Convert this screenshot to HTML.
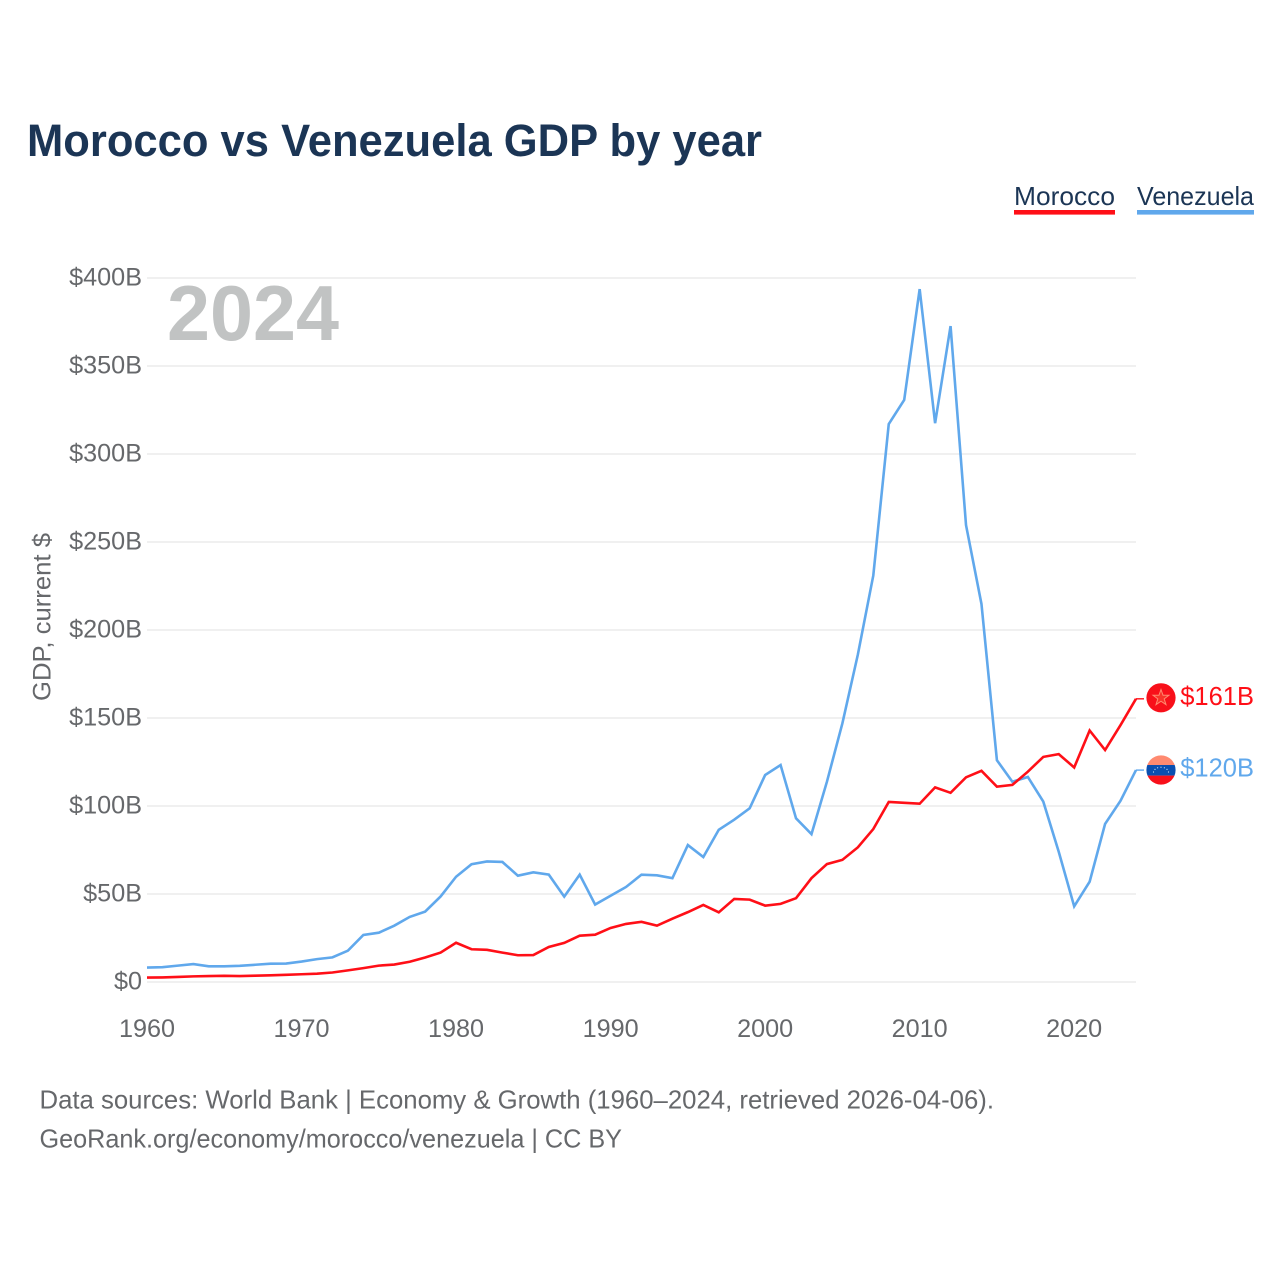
<!DOCTYPE html>
<html lang="en">
<head>
<meta charset="utf-8">
<title>Morocco vs Venezuela GDP by year</title>
<style>
html,body{margin:0;padding:0;background:#fff;width:1280px;height:1280px;overflow:hidden}
svg{display:block;font-family:"Liberation Sans",sans-serif}
</style>
</head>
<body>
<svg id="chart" xmlns="http://www.w3.org/2000/svg" width="1280" height="1280" viewBox="0 0 1280 1280">
  <rect x="0" y="0" width="1280" height="1280" fill="#ffffff"/>
  <text x="27" y="156" font-size="45" font-weight="700" fill="#1b3555" textLength="735" lengthAdjust="spacingAndGlyphs">Morocco vs Venezuela GDP by year</text>

  <g>
    <g>
      <text x="1014" y="205" font-size="26" fill="#1b3555" textLength="101" lengthAdjust="spacingAndGlyphs">Morocco</text>
      <rect x="1014" y="210" width="101" height="4.6" fill="#ff0f17"/>
    </g>
    <g>
      <text x="1137" y="205" font-size="26" fill="#1b3555" textLength="117" lengthAdjust="spacingAndGlyphs">Venezuela</text>
      <rect x="1137" y="210" width="117" height="4.6" fill="#60a8ec"/>
    </g>
  </g>

  <g id="grid"></g>
  <g id="y-axis"></g>
  <g id="x-axis"></g>

  <text x="167" y="340" font-size="78" font-weight="700" fill="#c1c3c3" textLength="172" lengthAdjust="spacingAndGlyphs">2024</text>

  <text transform="translate(50.5 701) rotate(-90)" x="0" y="0" font-size="25" fill="#66686b" textLength="168" lengthAdjust="spacingAndGlyphs">GDP, current $</text>

  <g id="series"></g>

  <defs>
    <clipPath id="ven-clip"><circle cx="1161" cy="770" r="14.6"/></clipPath>
  </defs>

  <g>
    <circle cx="1161" cy="697.8" r="14.6" fill="#f8101a"/>
    <polygon points="1161,689.5 1163,695.2 1169,695.2 1164.2,698.9 1166,704.6 1161,701.2 1156,704.6 1157.8,698.9 1153,695.2 1159,695.2" fill="#f8352a" stroke="#ff8a70" stroke-width="1"/>
  </g>
  <g clip-path="url(#ven-clip)">
    <rect x="1146" y="755" width="30" height="10" fill="#ff8a70"/>
    <rect x="1146" y="765" width="30" height="10.6" fill="#0a4fb0"/>
    <rect x="1146" y="775.6" width="30" height="10" fill="#f8101a"/>
    <g fill="#cfe0f5">
      <circle cx="1153.5" cy="772" r="0.6"/><circle cx="1155" cy="769.4" r="0.6"/><circle cx="1157.6" cy="767.8" r="0.6"/><circle cx="1161" cy="767.2" r="0.6"/><circle cx="1164.4" cy="767.8" r="0.6"/><circle cx="1167" cy="769.4" r="0.6"/><circle cx="1168.5" cy="772" r="0.6"/>
    </g>
  </g>

  <g id="end-labels"></g>

  <g>
    <text x="39.5" y="1108.5" font-size="26" fill="#66686b" textLength="954.5" lengthAdjust="spacingAndGlyphs">Data sources: World Bank | Economy &amp; Growth (1960–2024, retrieved 2026-04-06).</text>
    <text x="39.5" y="1147.5" font-size="26" fill="#66686b" textLength="582.5" lengthAdjust="spacingAndGlyphs">GeoRank.org/economy/morocco/venezuela | CC BY</text>
  </g>
</svg>
<script>
const years = [1960,1961,1962,1963,1964,1965,1966,1967,1968,1969,1970,1971,1972,1973,1974,1975,1976,1977,1978,1979,1980,1981,1982,1983,1984,1985,1986,1987,1988,1989,1990,1991,1992,1993,1994,1995,1996,1997,1998,1999,2000,2001,2002,2003,2004,2005,2006,2007,2008,2009,2010,2011,2012,2013,2014,2015,2016,2017,2018,2019,2020,2021,2022,2023,2024];
const moroccoGdp = [2.5,2.6,2.9,3.2,3.4,3.5,3.4,3.6,3.8,4.1,4.4,4.7,5.4,6.6,7.9,9.3,9.9,11.5,13.9,16.7,22.3,18.6,18.3,16.7,15.2,15.3,19.9,22.2,26.3,26.9,30.7,33,34.2,32,36,39.7,43.8,39.6,47.2,46.8,43.4,44.4,47.6,59,67,69.4,76.5,86.9,102.3,101.8,101.3,110.6,107.5,116.3,120,111,112,119.5,127.9,129.5,121.9,142.9,131.8,146,160.9];
const venezuelaGdp = [8.2,8.4,9.3,10.2,8.9,8.9,9.2,9.8,10.4,10.5,11.6,13,14,17.8,26.7,28,32,37,40,48.6,59.8,66.9,68.5,68.2,60.4,62.3,61,48.5,61,44,49,54,61,60.6,59,77.8,71,86.5,92.2,98.7,117.6,123.3,93,84,113.8,147,186,231,317,330.7,393.7,317.5,372.7,259.6,214.8,126,113.8,116.5,102.5,74,43,57,89.8,103,120.4];
const yTickValues = [0,50,100,150,200,250,300,350,400];
const yTickLabels = ["$0","$50B","$100B","$150B","$200B","$250B","$300B","$350B","$400B"];
const xTickValues = [1960,1970,1980,1990,2000,2010,2020];
const xTickLabels = ["1960","1970","1980","1990","2000","2010","2020"];
const endLabels = ["$161B","$120B"];

const NS = "http://www.w3.org/2000/svg";
const xScale = function (year) { return 147 + (year - 1960) * (989 / 64); };
const yScale = function (value) { return 982 - value * 1.76; };

function make(tag, parent, attrs) {
  const el = document.createElementNS(NS, tag);
  Object.keys(attrs).forEach(function (k) { el.setAttribute(k, attrs[k]); });
  parent.appendChild(el);
  return el;
}

const gridGroup = document.getElementById("grid");
const yAxisGroup = document.getElementById("y-axis");
yTickValues.forEach(function (v, i) {
  const line = make("line", gridGroup, { x1: 147, x2: 1136, y1: yScale(v), y2: yScale(v), stroke: "#f0f0f0", "stroke-width": 2 });
  
  
  const label = make("text", yAxisGroup, { x: 142, y: yScale(v) + 7.5, "text-anchor": "end", "font-size": 25.2, fill: "#66686b" });
  
  
  label.textContent = yTickLabels[i];
});

const xAxisGroup = document.getElementById("x-axis");
xTickValues.forEach(function (v, i) {
  const label = make("text", xAxisGroup, { x: xScale(v), y: 1037, "text-anchor": "middle", "font-size": 25.2, fill: "#66686b" });
  
  
  label.textContent = xTickLabels[i];
});

function linePath(values) {
  return values.map(function (v, i) {
    return (i ? "L" : "M") + xScale(years[i]).toFixed(2) + " " + yScale(v).toFixed(2);
  }).join("");
}

const seriesGroup = document.getElementById("series");
const labelGroup = document.getElementById("end-labels");
const lastIndex = years.length - 1;

const venezuelaLine = make("path", seriesGroup, { d: linePath(venezuelaGdp), fill: "none", stroke: "#60a8ec", "stroke-width": 2.6, "stroke-linejoin": "miter" });



const moroccoLine = make("path", seriesGroup, { d: linePath(moroccoGdp), fill: "none", stroke: "#ff0f17", "stroke-width": 2.6, "stroke-linejoin": "miter" });



const moroccoConnector = make("line", seriesGroup, { x1: xScale(years[lastIndex]), x2: 1144, y1: yScale(moroccoGdp[lastIndex]), y2: yScale(moroccoGdp[lastIndex]), stroke: "#ff0f17", "stroke-width": 1.4 });



const venezuelaConnector = make("line", seriesGroup, { x1: xScale(years[lastIndex]), x2: 1144, y1: yScale(venezuelaGdp[lastIndex]), y2: yScale(venezuelaGdp[lastIndex]), stroke: "#60a8ec", "stroke-width": 1.4 });



const moroccoLabel = make("text", labelGroup, { x: 1254, y: yScale(moroccoGdp[lastIndex]) + 6, "text-anchor": "end", "font-size": 25.5, fill: "#ff0f17" });


moroccoLabel.textContent = endLabels[0];

const venezuelaLabel = make("text", labelGroup, { x: 1254, y: yScale(venezuelaGdp[lastIndex]) + 6.5, "text-anchor": "end", "font-size": 25.5, fill: "#60a8ec" });


venezuelaLabel.textContent = endLabels[1];
</script>
</body>
</html>
